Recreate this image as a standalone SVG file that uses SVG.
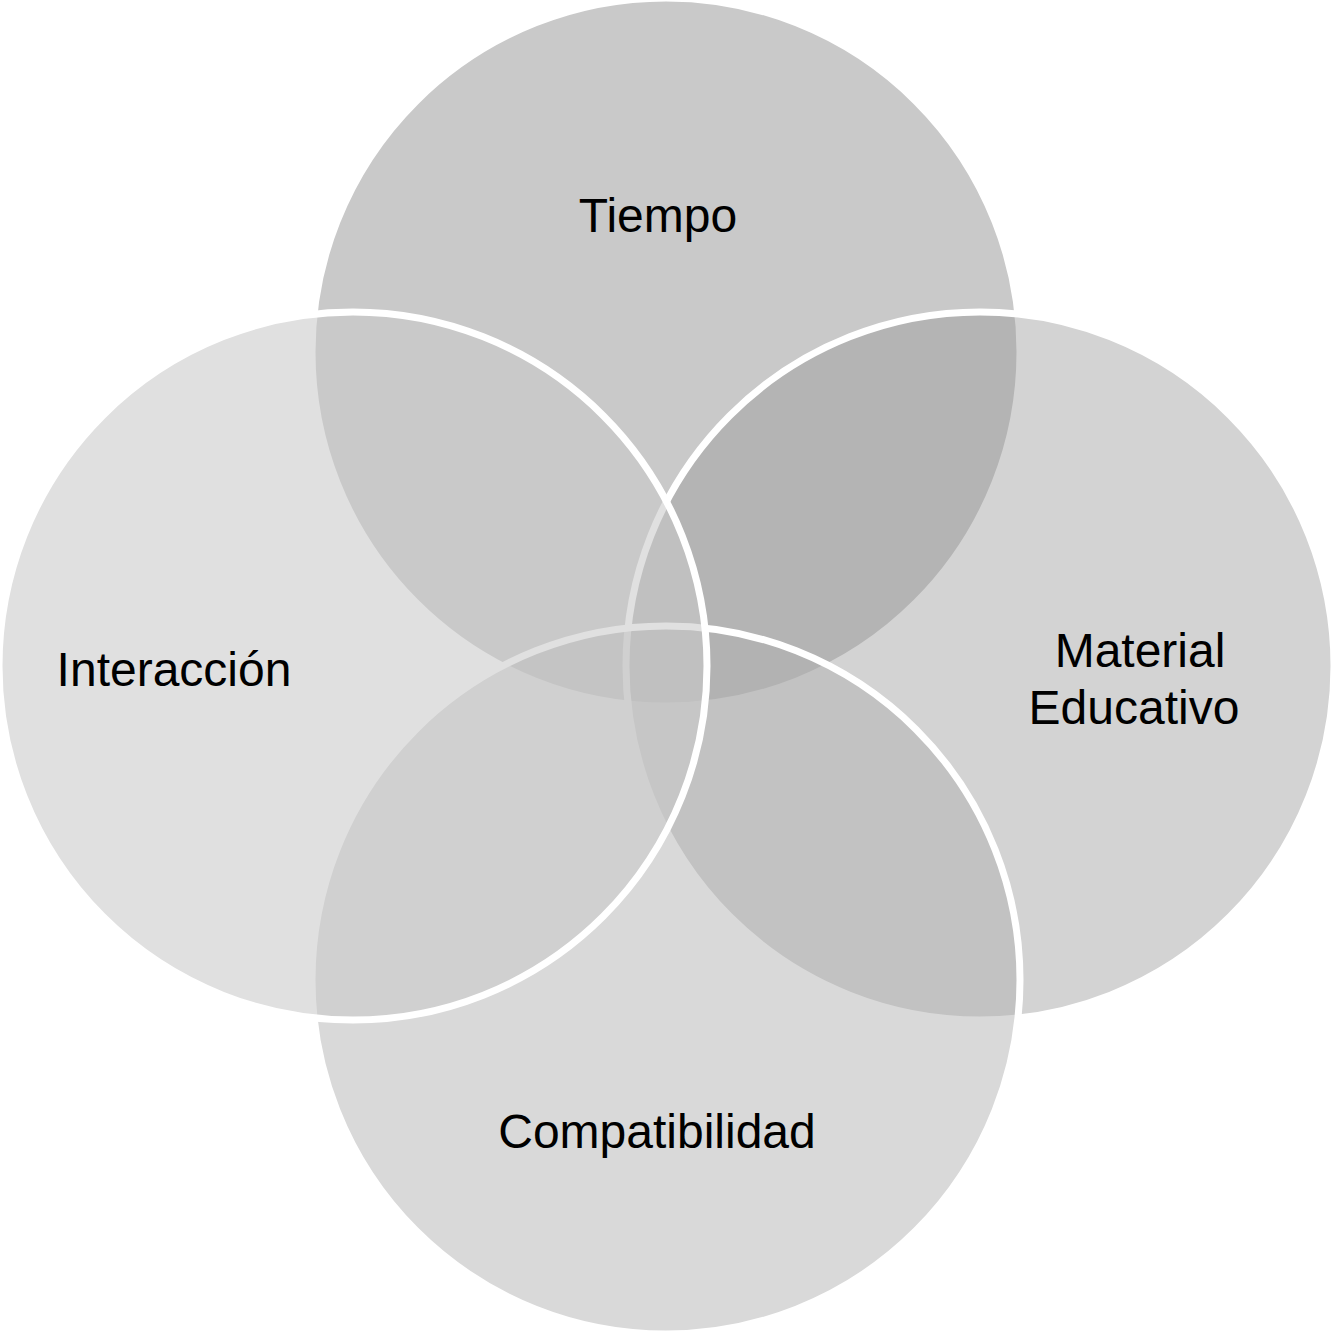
<svg xmlns="http://www.w3.org/2000/svg" width="1333" height="1334" viewBox="0 0 1333 1334">
<style>
.c{stroke:#ffffff;stroke-width:7}
.t{font-family:"Liberation Sans",Arial,sans-serif;font-size:48px;fill:#000000;text-anchor:middle}
</style>
<rect width="1333" height="1334" fill="#ffffff"/>
<g id="tiempo"><circle class="c" cx="666" cy="352" r="354" fill="#c9c9c9"/></g>
<g id="material"><circle class="c" cx="980" cy="666" r="354" fill="#999999" fill-opacity="0.43"/></g>
<g id="compatibilidad"><circle class="c" cx="666" cy="980" r="354" fill="#b0b0b0" fill-opacity="0.48"/></g>
<g id="interaccion"><circle class="c" cx="353" cy="666" r="354" fill="#cacaca" fill-opacity="0.58"/></g>
<g id="labels">
<text class="t" x="658" y="232">Tiempo</text>
<text class="t" x="1140" y="667">Material</text>
<text class="t" x="1134" y="724">Educativo</text>
<text class="t" x="657" y="1148">Compatibilidad</text>
<text class="t" x="174" y="686">Interacción</text>
</g>
<g id="connectors"/>
</svg>
